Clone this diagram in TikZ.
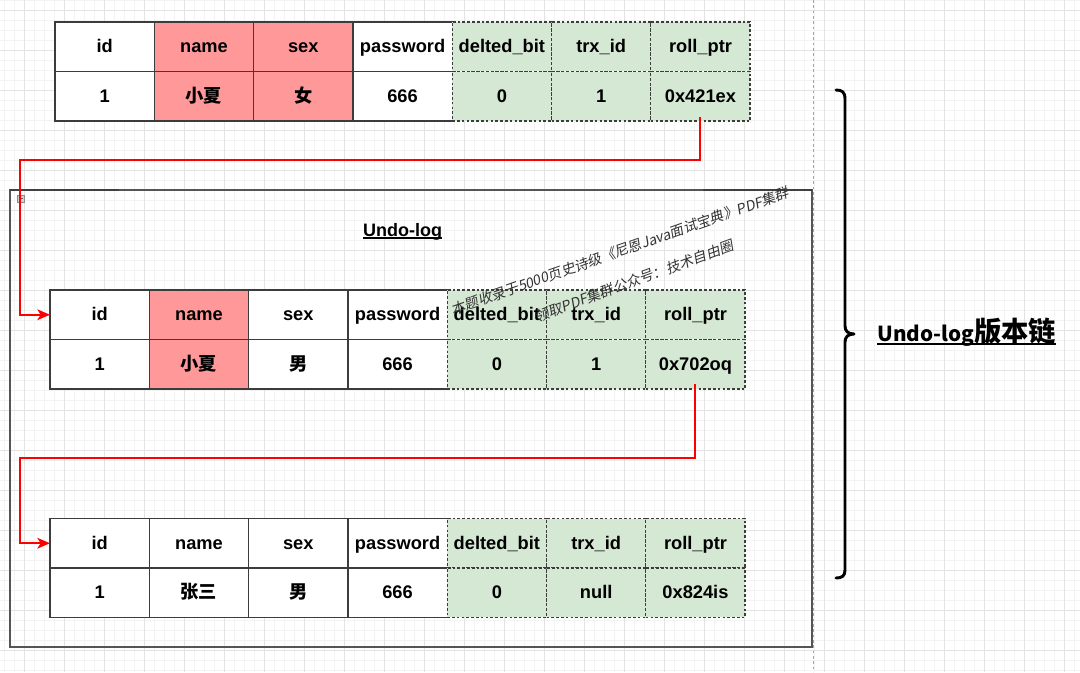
\documentclass[tikz,border=0pt]{standalone}
\usepackage{fontspec}
\setmainfont{Liberation Sans}
\newfontfamily\cjk{Noto Sans CJK SC}
\newfontfamily\wmfont{Noto Sans CJK SC}[FakeSlant=0.18]
\usetikzlibrary{arrows.meta}
\definecolor{pinkc}{HTML}{FF9999}
\definecolor{greenc}{HTML}{D5E8D4}
\definecolor{edgec}{HTML}{3C3C3C}
\definecolor{gridminor}{HTML}{F3F3F3}
\definecolor{gridmajor}{HTML}{E3E3E3}
\definecolor{redline}{HTML}{FF0000}
\definecolor{contc}{HTML}{555555}
\newcommand\myul[3]{\setbox0\hbox{#3}\rlap{\raisebox{-#1}{\rule{\wd0}{#2}}}\box0}
\newcommand\rowcells[4]{%
  \foreach \t/\s [count=\i] in {#4} {\node[\s] (#1\i) at ({#2+(\i-1)*99.3},#3) {\t};}%
}
\tikzset{
  gridmin/.style={draw=gridminor, line width=0.75pt},
  gridmaj/.style={draw=gridmajor, line width=0.75pt},
  cellbase/.style={rectangle, anchor=north west, inner sep=0pt, outer sep=0pt,
    minimum width=74.5pt, minimum height=37.1pt, line width=1pt,
    text height=12pt, text depth=3pt,
    font=\fontsize{13.7}{16}\selectfont\bfseries, text=black},
  wc/.style={cellbase, draw=edgec, fill=white},
  pc/.style={cellbase, draw=edgec, fill=pinkc},
  gc/.style={cellbase, draw=edgec, fill=greenc, dash pattern=on 2pt off 1.6pt},
  redarrow/.style={draw=redline, line width=1.5pt,
    -{Stealth[length=9.5pt,width=8pt,inset=2.5pt]}},
  wm/.style={font=\wmfont\fontsize{10.6}{12}\selectfont, text=black!80, inner sep=0pt},
  bracestyle/.style={line width=2.2pt, line cap=round, line join=round},
}
\begin{document}
\begin{tikzpicture}[x=0.75pt,y=-0.75pt]
\useasboundingbox (0,0) rectangle (1080,672);
\fill[white] (0,0) rectangle (1080,672);
% grid
\foreach \x in {4,14,...,1074} \draw[gridmin] (\x,0) -- (\x,672);
\foreach \y in {0,10,...,670} \draw[gridmin] (0,\y) -- (1080,\y);
\foreach \x in {24,64,...,1064} \draw[gridmaj] (\x,0) -- (\x,672);
\foreach \y in {10,50,...,650} \draw[gridmaj] (0,\y) -- (1080,\y);
% page break line
\draw[black!35, line width=0.75pt, dash pattern=on 2pt off 2pt] (813,0) -- (813,672);
% container
\node[draw=contc, line width=0.8pt, rectangle, anchor=north west, inner sep=0pt, outer sep=0pt,
  minimum width=601.5pt, minimum height=342.75pt] (cont) at (10,190) {};
\draw[black!75, line width=1.2pt] (cont.north west) -- ++(109,0);
\draw[black!75, line width=1.2pt] (cont.north east) -- ++(-109,0);
\node[draw=black!45, fill=black!18, rectangle, minimum size=5pt, inner sep=0pt] (icon) at (21,198.5) {};
\draw[black!60, line width=0.6pt] ([xshift=1pt]icon.west) -- ([xshift=-1pt]icon.east);
\node[anchor=base, font=\fontsize{13.5}{16}\selectfont\bfseries, inner sep=0pt] (title) at (402.5,236.7)
  {\myul{1.6pt}{1.1pt}{Undo-log}};
% table 1
\rowcells{T1h}{55}{22}{id/wc,name/pc,sex/pc,password/wc,delted\_bit/gc,trx\_id/gc,roll\_ptr/gc}
\rowcells{T1r}{55}{71.5}{1/wc,{\cjk 小夏}/pc,{\cjk 女}/pc,666/wc,0/gc,1/gc,0x421ex/gc}
% table 2
\rowcells{T2h}{50}{290}{id/wc,name/pc,sex/wc,password/wc,delted\_bit/gc,trx\_id/gc,roll\_ptr/gc}
\rowcells{T2r}{50}{339.5}{1/wc,{\cjk 小夏}/pc,{\cjk 男}/wc,666/wc,0/gc,1/gc,0x702oq/gc}
% table 3
\rowcells{T3h}{50}{518.5}{id/wc,name/wc,sex/wc,password/wc,delted\_bit/gc,trx\_id/gc,roll\_ptr/gc}
\rowcells{T3r}{50}{568}{1/wc,{\cjk 张三}/wc,{\cjk 男}/wc,666/wc,0/gc,null/gc,0x824is/gc}
% connectors
\coordinate (s1) at (700,117);
\coordinate (j1) at (20,160);
\draw[redarrow] (s1) |- (j1) |- (T2h1.west);
\coordinate (s2) at (695,384);
\coordinate (j2) at (20,458);
\draw[redarrow] (s2) |- (j2) |- (T3h1.west);
% brace
\draw[bracestyle] (836,90) .. controls (842,90) and (845,92) .. (845,99) -- (845,326)
  .. controls (845,331) and (848,334) .. (854,334)
  .. controls (848,334) and (845,337) .. (845,342) -- (845,570)
  .. controls (845,576) and (842,578) .. (836,578);
\node[anchor=base west, inner sep=0pt, font=\cjk\bfseries] (chain) at (877,341.7)
  {\myul{2.4pt}{1.5pt}{\fontsize{15.5}{18}\selectfont Undo-log\fontsize{20.5}{24}\selectfont 版本链}};
% watermark
\node[wm, rotate=19.3] (wm1) at (620,251) {本题收录于5000页史诗级《尼恩Java面试宝典》PDF集群};
\node[wm, rotate=20] (wm2) at (634,281) {领取PDF集群公众号：技术自由圈};
\end{tikzpicture}
\end{document}
